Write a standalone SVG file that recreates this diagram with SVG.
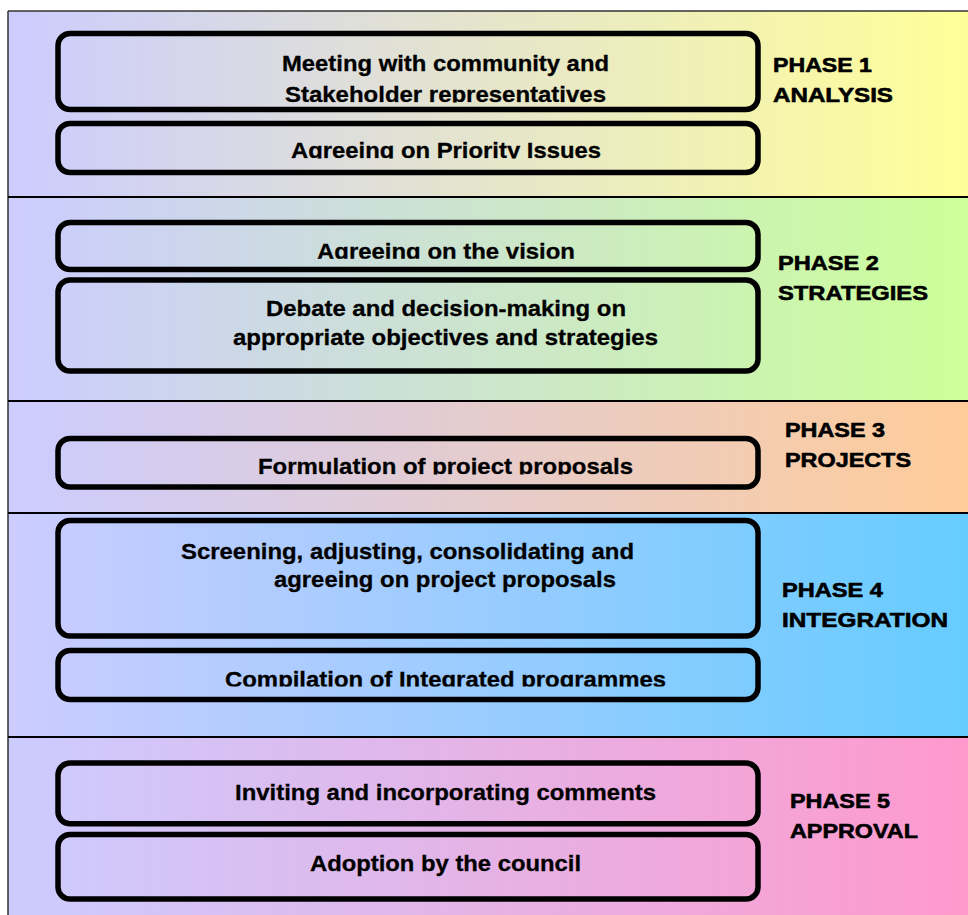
<svg xmlns="http://www.w3.org/2000/svg" width="968" height="915" viewBox="0 0 968 915">
<style>
.box{fill:none;stroke:#000;stroke-width:5.5}
.t{font-family:"Liberation Sans",Arial,sans-serif;font-weight:bold;font-size:22.3px;fill:#000;stroke:#000;stroke-width:0.3}
.p{font-family:"Liberation Sans",Arial,sans-serif;font-weight:bold;font-size:21px;fill:#000;stroke:#000;stroke-width:0.6}
.sep{stroke:#000;stroke-width:2}
</style>
<defs>
<linearGradient id="g1" x1="0" y1="0" x2="1" y2="0"><stop offset="0" stop-color="#CCCCFF"/><stop offset="1" stop-color="#FFFF99"/></linearGradient>
<linearGradient id="g2" x1="0" y1="0" x2="1" y2="0"><stop offset="0" stop-color="#CCCCFF"/><stop offset="1" stop-color="#CCFF99"/></linearGradient>
<linearGradient id="g3" x1="0" y1="0" x2="1" y2="0"><stop offset="0" stop-color="#CCCCFF"/><stop offset="1" stop-color="#FFCC99"/></linearGradient>
<linearGradient id="g4" x1="0" y1="0" x2="1" y2="0"><stop offset="0" stop-color="#CCCCFF"/><stop offset="1" stop-color="#66CCFF"/></linearGradient>
<linearGradient id="g5" x1="0" y1="0" x2="1" y2="0"><stop offset="0" stop-color="#CCCCFF"/><stop offset="1" stop-color="#FF99CC"/></linearGradient>
<clipPath id="c1"><rect x="0" y="0" width="968" height="102.6"/></clipPath>
<clipPath id="c2"><rect x="0" y="0" width="968" height="158.4"/></clipPath>
<clipPath id="c3"><rect x="0" y="0" width="968" height="258.8"/></clipPath>
<clipPath id="c4"><rect x="0" y="0" width="968" height="474.6"/></clipPath>
<clipPath id="c5"><rect x="0" y="0" width="968" height="686.6"/></clipPath>
</defs>

<g id="bands">
<rect x="8" y="11" width="960" height="186" fill="url(#g1)"/>
<rect x="8" y="197" width="960" height="204" fill="url(#g2)"/>
<rect x="8" y="401" width="960" height="112" fill="url(#g3)"/>
<rect x="8" y="513" width="960" height="224" fill="url(#g4)"/>
<rect x="8" y="737" width="960" height="178" fill="url(#g5)"/>
<line x1="8" y1="11" x2="968" y2="11" stroke="#333" stroke-width="1.5"/>
<line x1="8" y1="11" x2="8" y2="915" stroke="#333" stroke-width="1.5"/>
<line class="sep" x1="8" y1="197" x2="968" y2="197"/>
<line class="sep" x1="8" y1="401" x2="968" y2="401"/>
<line class="sep" x1="8" y1="513" x2="968" y2="513"/>
<line class="sep" x1="8" y1="737" x2="968" y2="737"/>
</g>

<g id="phase1">
<g id="n-meeting">
<rect class="box" x="58" y="33.5" width="700" height="76" rx="12"/>
<text class="t" x="282" y="71" textLength="327" lengthAdjust="spacingAndGlyphs">Meeting with community and</text>
<text class="t" x="285" y="102" textLength="321" lengthAdjust="spacingAndGlyphs" clip-path="url(#c1)">Stakeholder representatives</text>
</g>
<g id="n-priority">
<rect class="box" x="58" y="123.5" width="700" height="49" rx="12"/>
<text class="t" x="291" y="157.7" textLength="310" lengthAdjust="spacingAndGlyphs" clip-path="url(#c2)">Agreeing on Priority Issues</text>
</g>
<g id="l-phase1">
<text class="p" x="773" y="72.3" textLength="99" lengthAdjust="spacingAndGlyphs">PHASE 1</text>
<text class="p" x="773" y="102.3" textLength="120" lengthAdjust="spacingAndGlyphs">ANALYSIS</text>
</g>
</g>

<g id="phase2">
<g id="n-vision">
<rect class="box" x="58" y="222.5" width="700" height="47" rx="12"/>
<text class="t" x="317" y="259" textLength="258" lengthAdjust="spacingAndGlyphs" clip-path="url(#c3)">Agreeing on the vision</text>
</g>
<g id="n-debate">
<rect class="box" x="58" y="280" width="700" height="91" rx="12"/>
<text class="t" x="266" y="316" textLength="360" lengthAdjust="spacingAndGlyphs">Debate and decision-making on</text>
<text class="t" x="233" y="345" textLength="425" lengthAdjust="spacingAndGlyphs">appropriate objectives and strategies</text>
</g>
<g id="l-phase2">
<text class="p" x="778" y="270" textLength="101" lengthAdjust="spacingAndGlyphs">PHASE 2</text>
<text class="p" x="778" y="300" textLength="150" lengthAdjust="spacingAndGlyphs">STRATEGIES</text>
</g>
</g>

<g id="phase3">
<g id="n-formulation">
<rect class="box" x="58" y="438.5" width="700" height="48.5" rx="12"/>
<text class="t" x="258" y="474.3" textLength="375" lengthAdjust="spacingAndGlyphs" clip-path="url(#c4)">Formulation of project proposals</text>
</g>
<g id="l-phase3">
<text class="p" x="785" y="436.7" textLength="100" lengthAdjust="spacingAndGlyphs">PHASE 3</text>
<text class="p" x="785" y="467" textLength="126" lengthAdjust="spacingAndGlyphs">PROJECTS</text>
</g>
</g>

<g id="phase4">
<g id="n-screening">
<rect class="box" x="58" y="520.5" width="700" height="115.5" rx="12"/>
<text class="t" x="181" y="559" textLength="453" lengthAdjust="spacingAndGlyphs">Screening, adjusting, consolidating and</text>
<text class="t" x="274" y="587" textLength="342" lengthAdjust="spacingAndGlyphs">agreeing on project proposals</text>
</g>
<g id="n-compilation">
<rect class="box" x="58" y="650.5" width="700" height="49" rx="12"/>
<text class="t" x="225" y="686.5" textLength="441" lengthAdjust="spacingAndGlyphs" clip-path="url(#c5)">Compilation of Integrated programmes</text>
</g>
<g id="l-phase4">
<text class="p" x="782" y="597" textLength="101" lengthAdjust="spacingAndGlyphs">PHASE 4</text>
<text class="p" x="782" y="627" textLength="166" lengthAdjust="spacingAndGlyphs">INTEGRATION</text>
</g>
</g>

<g id="phase5">
<g id="n-inviting">
<rect class="box" x="58" y="763" width="700" height="60.7" rx="12"/>
<text class="t" x="235" y="800" textLength="421" lengthAdjust="spacingAndGlyphs">Inviting and incorporating comments</text>
</g>
<g id="n-adoption">
<rect class="box" x="58" y="834.5" width="700" height="64.5" rx="12"/>
<text class="t" x="310" y="871" textLength="271" lengthAdjust="spacingAndGlyphs">Adoption by the council</text>
</g>
<g id="l-phase5">
<text class="p" x="790" y="808" textLength="100" lengthAdjust="spacingAndGlyphs">PHASE 5</text>
<text class="p" x="790" y="838" textLength="128" lengthAdjust="spacingAndGlyphs">APPROVAL</text>
</g>
</g>

<g id="connectors"></g>
</svg>
